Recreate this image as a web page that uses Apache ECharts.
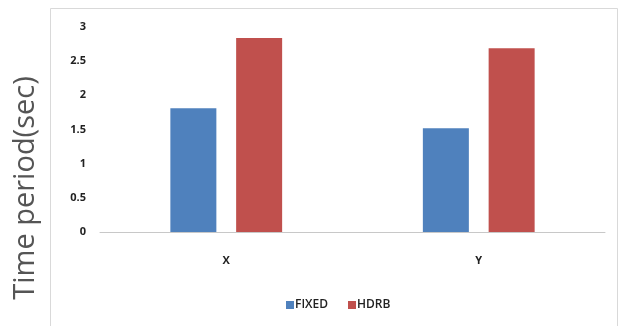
<!DOCTYPE html>
<html>
<head>
<meta charset="utf-8">
<script src="https://cdn.jsdelivr.net/npm/echarts@6/dist/echarts.min.js"></script>
<style>
  html, body { margin: 0; padding: 0; background: #ffffff; }
  #chart { width: 622px; height: 326px; }
</style>
</head>
<body>
<div id="chart"></div>
<script>
// Categories and measured time periods (seconds)
const categories = ['X', 'Y'];
const fixedValues = [1.81, 1.52];
const hdrbValues = [2.84, 2.69];
const yTicks = ['0', '0.5', '1', '1.5', '2', '2.5', '3'];

const chart = echarts.init(document.getElementById('chart'), null, { renderer: 'canvas' });

chart.setOption({
  backgroundColor: '#ffffff',
  animation: false,
  graphic: [{
    type: 'rect',
    shape: { x: 50.5, y: 8.5, width: 567, height: 330 },
    style: { fill: 'none', stroke: '#d9d9d9', lineWidth: 1 },
    silent: true
  }],
  grid: { left: 100, right: 17, top: 27, bottom: 94 },
  legend: {
    data: ['FIXED', 'HDRB'],
    left: 281,
    top: 294,
    itemWidth: 8,
    itemHeight: 8,
    itemGap: 20,
    icon: 'rect',
    textStyle: { fontFamily: 'Open Sans', fontSize: 12, fontWeight: 600, color: '#222', padding: [0, 0, 0, -4] }
  },
  xAxis: {
    type: 'category',
    data: categories,
    axisLine: { lineStyle: { color: '#c8c8c8', width: 1 } },
    axisTick: { show: false },
    axisLabel: { margin: 23, fontFamily: 'Open Sans', fontWeight: 'bold', fontSize: 11, color: '#222' }
  },
  yAxis: {
    type: 'value',
    min: 0,
    max: 3,
    interval: 0.5,
    name: 'Time period(sec)',
    nameLocation: 'middle',
    nameGap: 60,
    nameRotate: 90,
    nameTextStyle: {
      fontFamily: 'Open Sans',
      fontSize: 29,
      color: '#555',
      padding: [0, 117, 0, 0]
    },
    axisLine: { show: false },
    axisTick: { show: false },
    splitLine: { show: false },
    axisLabel: {
      margin: 14,
      fontFamily: 'Open Sans',
      fontWeight: 'bold',
      fontSize: 11,
      color: '#222',
      formatter: function (v) { return yTicks[Math.round(v / 0.5)]; }
    }
  },
  series: [
    {
      name: 'FIXED',
      type: 'bar',
      data: fixedValues,
      barWidth: 46,
      barGap: '43%',
      itemStyle: { color: '#4f81bd' }
    },
    {
      name: 'HDRB',
      type: 'bar',
      data: hdrbValues,
      barWidth: 46,
      itemStyle: { color: '#c0504d' }
    }
  ]
});
</script>
</body>
</html>
